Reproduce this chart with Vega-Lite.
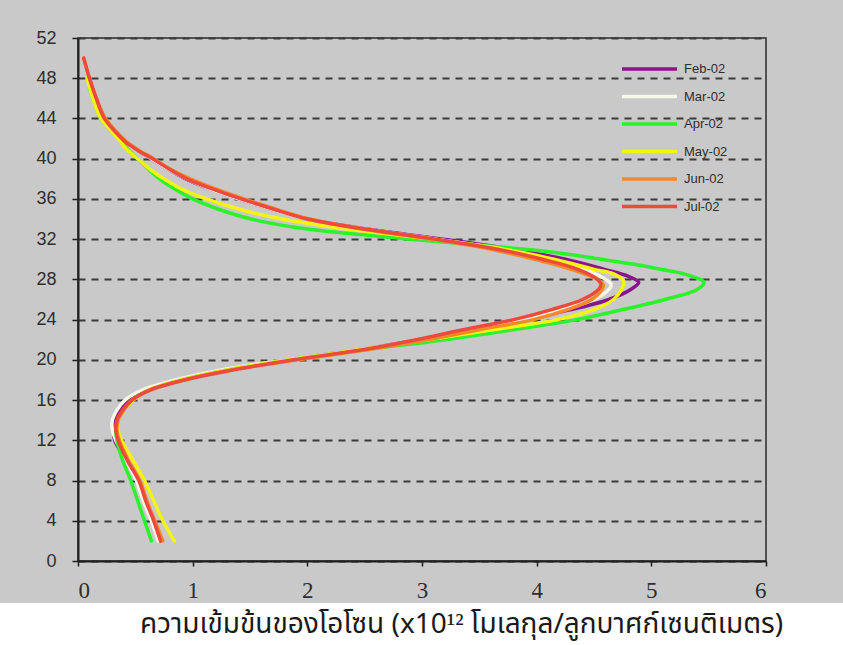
{
  "$schema": "https://vega.github.io/schema/vega-lite/v6.json",
  "autosize": {"type": "pad"},
  "padding": {"left": 0, "top": 28, "right": 0, "bottom": 0},
  "background": "#c9c9c9",
  "spacing": 0,
  "config": {
    "view": {"stroke": null},
    "axis": {
      "domainColor": "#1e1e1e",
      "domainWidth": 2,
      "tickColor": "#1e1e1e",
      "tickWidth": 1.5,
      "labelColor": "#2e2e2e",
      "labelFont": "Liberation Sans"
    }
  },
  "datasets": {
    "ozone": [
      {"month": "Feb-02", "alt": 2, "conc": 0.72}, {"month": "Feb-02", "alt": 4, "conc": 0.65}, {"month": "Feb-02", "alt": 6, "conc": 0.58}, {"month": "Feb-02", "alt": 8, "conc": 0.52}, {"month": "Feb-02", "alt": 10, "conc": 0.42}, {"month": "Feb-02", "alt": 12, "conc": 0.32}, {"month": "Feb-02", "alt": 13, "conc": 0.31}, {"month": "Feb-02", "alt": 14, "conc": 0.32}, {"month": "Feb-02", "alt": 15, "conc": 0.36}, {"month": "Feb-02", "alt": 16, "conc": 0.44}, {"month": "Feb-02", "alt": 17, "conc": 0.6}, {"month": "Feb-02", "alt": 18, "conc": 0.9}, {"month": "Feb-02", "alt": 19, "conc": 1.3}, {"month": "Feb-02", "alt": 20, "conc": 1.83}, {"month": "Feb-02", "alt": 21, "conc": 2.45}, {"month": "Feb-02", "alt": 22, "conc": 2.98}, {"month": "Feb-02", "alt": 23, "conc": 3.4}, {"month": "Feb-02", "alt": 24, "conc": 3.85}, {"month": "Feb-02", "alt": 25, "conc": 4.3}, {"month": "Feb-02", "alt": 26, "conc": 4.63}, {"month": "Feb-02", "alt": 27, "conc": 4.82}, {"month": "Feb-02", "alt": 27.7, "conc": 4.89}, {"month": "Feb-02", "alt": 28.3, "conc": 4.8}, {"month": "Feb-02", "alt": 29, "conc": 4.59}, {"month": "Feb-02", "alt": 30, "conc": 4.25}, {"month": "Feb-02", "alt": 31, "conc": 3.78}, {"month": "Feb-02", "alt": 32, "conc": 3.18}, {"month": "Feb-02", "alt": 33, "conc": 2.52}, {"month": "Feb-02", "alt": 34, "conc": 2.0}, {"month": "Feb-02", "alt": 35, "conc": 1.68}, {"month": "Feb-02", "alt": 36, "conc": 1.4}, {"month": "Feb-02", "alt": 37, "conc": 1.15}, {"month": "Feb-02", "alt": 38, "conc": 0.94}, {"month": "Feb-02", "alt": 39, "conc": 0.78}, {"month": "Feb-02", "alt": 40, "conc": 0.64}, {"month": "Feb-02", "alt": 41, "conc": 0.5}, {"month": "Feb-02", "alt": 42, "conc": 0.39}, {"month": "Feb-02", "alt": 44, "conc": 0.22}, {"month": "Feb-02", "alt": 46, "conc": 0.15}, {"month": "Feb-02", "alt": 48, "conc": 0.09},

      {"month": "Mar-02", "alt": 2, "conc": 0.7}, {"month": "Mar-02", "alt": 4, "conc": 0.64}, {"month": "Mar-02", "alt": 6, "conc": 0.57}, {"month": "Mar-02", "alt": 8, "conc": 0.51}, {"month": "Mar-02", "alt": 10, "conc": 0.42}, {"month": "Mar-02", "alt": 12, "conc": 0.33}, {"month": "Mar-02", "alt": 13, "conc": 0.3}, {"month": "Mar-02", "alt": 14, "conc": 0.3}, {"month": "Mar-02", "alt": 15, "conc": 0.34}, {"month": "Mar-02", "alt": 16, "conc": 0.41}, {"month": "Mar-02", "alt": 17, "conc": 0.56}, {"month": "Mar-02", "alt": 18, "conc": 0.85}, {"month": "Mar-02", "alt": 19, "conc": 1.25}, {"month": "Mar-02", "alt": 20, "conc": 1.82}, {"month": "Mar-02", "alt": 21, "conc": 2.45}, {"month": "Mar-02", "alt": 22, "conc": 3.0}, {"month": "Mar-02", "alt": 23, "conc": 3.45}, {"month": "Mar-02", "alt": 24, "conc": 3.9}, {"month": "Mar-02", "alt": 25, "conc": 4.22}, {"month": "Mar-02", "alt": 26, "conc": 4.5}, {"month": "Mar-02", "alt": 27, "conc": 4.63}, {"month": "Mar-02", "alt": 27.5, "conc": 4.65}, {"month": "Mar-02", "alt": 28, "conc": 4.6}, {"month": "Mar-02", "alt": 29, "conc": 4.42}, {"month": "Mar-02", "alt": 30, "conc": 4.12}, {"month": "Mar-02", "alt": 31, "conc": 3.7}, {"month": "Mar-02", "alt": 32, "conc": 3.12}, {"month": "Mar-02", "alt": 33, "conc": 2.5}, {"month": "Mar-02", "alt": 34, "conc": 2.0}, {"month": "Mar-02", "alt": 35, "conc": 1.68}, {"month": "Mar-02", "alt": 36, "conc": 1.4}, {"month": "Mar-02", "alt": 37, "conc": 1.15}, {"month": "Mar-02", "alt": 38, "conc": 0.95}, {"month": "Mar-02", "alt": 39, "conc": 0.78}, {"month": "Mar-02", "alt": 40, "conc": 0.64}, {"month": "Mar-02", "alt": 41, "conc": 0.5}, {"month": "Mar-02", "alt": 42, "conc": 0.39}, {"month": "Mar-02", "alt": 44, "conc": 0.22}, {"month": "Mar-02", "alt": 46, "conc": 0.15}, {"month": "Mar-02", "alt": 48, "conc": 0.09},

      {"month": "Apr-02", "alt": 2, "conc": 0.64}, {"month": "Apr-02", "alt": 4, "conc": 0.58}, {"month": "Apr-02", "alt": 6, "conc": 0.52}, {"month": "Apr-02", "alt": 8, "conc": 0.46}, {"month": "Apr-02", "alt": 10, "conc": 0.39}, {"month": "Apr-02", "alt": 12, "conc": 0.34}, {"month": "Apr-02", "alt": 13, "conc": 0.33}, {"month": "Apr-02", "alt": 14, "conc": 0.35}, {"month": "Apr-02", "alt": 15, "conc": 0.4}, {"month": "Apr-02", "alt": 16, "conc": 0.47}, {"month": "Apr-02", "alt": 17, "conc": 0.62}, {"month": "Apr-02", "alt": 18, "conc": 0.9}, {"month": "Apr-02", "alt": 19, "conc": 1.3}, {"month": "Apr-02", "alt": 20, "conc": 1.85}, {"month": "Apr-02", "alt": 21, "conc": 2.5}, {"month": "Apr-02", "alt": 22, "conc": 3.2}, {"month": "Apr-02", "alt": 23, "conc": 3.8}, {"month": "Apr-02", "alt": 24, "conc": 4.35}, {"month": "Apr-02", "alt": 25, "conc": 4.75}, {"month": "Apr-02", "alt": 26, "conc": 5.12}, {"month": "Apr-02", "alt": 27, "conc": 5.4}, {"month": "Apr-02", "alt": 27.7, "conc": 5.46}, {"month": "Apr-02", "alt": 28.5, "conc": 5.3}, {"month": "Apr-02", "alt": 29, "conc": 5.08}, {"month": "Apr-02", "alt": 29.5, "conc": 4.85}, {"month": "Apr-02", "alt": 30, "conc": 4.56}, {"month": "Apr-02", "alt": 30.6, "conc": 4.21}, {"month": "Apr-02", "alt": 31, "conc": 3.9}, {"month": "Apr-02", "alt": 32, "conc": 2.9}, {"month": "Apr-02", "alt": 33, "conc": 2.0}, {"month": "Apr-02", "alt": 34, "conc": 1.51}, {"month": "Apr-02", "alt": 35, "conc": 1.22}, {"month": "Apr-02", "alt": 36, "conc": 1.0}, {"month": "Apr-02", "alt": 37, "conc": 0.84}, {"month": "Apr-02", "alt": 38, "conc": 0.71}, {"month": "Apr-02", "alt": 39, "conc": 0.61}, {"month": "Apr-02", "alt": 40, "conc": 0.52}, {"month": "Apr-02", "alt": 41, "conc": 0.43}, {"month": "Apr-02", "alt": 42, "conc": 0.36}, {"month": "Apr-02", "alt": 44, "conc": 0.2}, {"month": "Apr-02", "alt": 46, "conc": 0.13}, {"month": "Apr-02", "alt": 47, "conc": 0.1},

      {"month": "May-02", "alt": 2, "conc": 0.84}, {"month": "May-02", "alt": 4, "conc": 0.74}, {"month": "May-02", "alt": 6, "conc": 0.66}, {"month": "May-02", "alt": 8, "conc": 0.58}, {"month": "May-02", "alt": 10, "conc": 0.48}, {"month": "May-02", "alt": 12, "conc": 0.38}, {"month": "May-02", "alt": 13, "conc": 0.35}, {"month": "May-02", "alt": 14, "conc": 0.35}, {"month": "May-02", "alt": 15, "conc": 0.4}, {"month": "May-02", "alt": 16, "conc": 0.48}, {"month": "May-02", "alt": 17, "conc": 0.62}, {"month": "May-02", "alt": 18, "conc": 0.9}, {"month": "May-02", "alt": 19, "conc": 1.3}, {"month": "May-02", "alt": 20, "conc": 1.85}, {"month": "May-02", "alt": 21, "conc": 2.45}, {"month": "May-02", "alt": 22, "conc": 3.05}, {"month": "May-02", "alt": 23, "conc": 3.62}, {"month": "May-02", "alt": 24, "conc": 4.18}, {"month": "May-02", "alt": 25, "conc": 4.5}, {"month": "May-02", "alt": 26, "conc": 4.67}, {"month": "May-02", "alt": 27, "conc": 4.74}, {"month": "May-02", "alt": 27.8, "conc": 4.76}, {"month": "May-02", "alt": 28.5, "conc": 4.68}, {"month": "May-02", "alt": 29, "conc": 4.5}, {"month": "May-02", "alt": 30, "conc": 4.15}, {"month": "May-02", "alt": 31, "conc": 3.72}, {"month": "May-02", "alt": 32, "conc": 3.1}, {"month": "May-02", "alt": 33, "conc": 2.35}, {"month": "May-02", "alt": 34, "conc": 1.78}, {"month": "May-02", "alt": 35, "conc": 1.4}, {"month": "May-02", "alt": 36, "conc": 1.12}, {"month": "May-02", "alt": 37, "conc": 0.9}, {"month": "May-02", "alt": 38, "conc": 0.75}, {"month": "May-02", "alt": 39, "conc": 0.62}, {"month": "May-02", "alt": 40, "conc": 0.52}, {"month": "May-02", "alt": 41, "conc": 0.42}, {"month": "May-02", "alt": 42, "conc": 0.35}, {"month": "May-02", "alt": 44, "conc": 0.2}, {"month": "May-02", "alt": 46, "conc": 0.13}, {"month": "May-02", "alt": 48, "conc": 0.08},

      {"month": "Jun-02", "alt": 2, "conc": 0.74}, {"month": "Jun-02", "alt": 4, "conc": 0.67}, {"month": "Jun-02", "alt": 6, "conc": 0.6}, {"month": "Jun-02", "alt": 8, "conc": 0.54}, {"month": "Jun-02", "alt": 10, "conc": 0.44}, {"month": "Jun-02", "alt": 12, "conc": 0.36}, {"month": "Jun-02", "alt": 13, "conc": 0.34}, {"month": "Jun-02", "alt": 14, "conc": 0.35}, {"month": "Jun-02", "alt": 15, "conc": 0.4}, {"month": "Jun-02", "alt": 16, "conc": 0.47}, {"month": "Jun-02", "alt": 17, "conc": 0.62}, {"month": "Jun-02", "alt": 18, "conc": 0.92}, {"month": "Jun-02", "alt": 19, "conc": 1.33}, {"month": "Jun-02", "alt": 20, "conc": 1.92}, {"month": "Jun-02", "alt": 21, "conc": 2.52}, {"month": "Jun-02", "alt": 22, "conc": 3.05}, {"month": "Jun-02", "alt": 23, "conc": 3.5}, {"month": "Jun-02", "alt": 24, "conc": 3.97}, {"month": "Jun-02", "alt": 25, "conc": 4.27}, {"month": "Jun-02", "alt": 26, "conc": 4.48}, {"month": "Jun-02", "alt": 27, "conc": 4.57}, {"month": "Jun-02", "alt": 27.5, "conc": 4.58}, {"month": "Jun-02", "alt": 28, "conc": 4.53}, {"month": "Jun-02", "alt": 29, "conc": 4.3}, {"month": "Jun-02", "alt": 30, "conc": 3.98}, {"month": "Jun-02", "alt": 31, "conc": 3.6}, {"month": "Jun-02", "alt": 32, "conc": 3.08}, {"month": "Jun-02", "alt": 33, "conc": 2.48}, {"month": "Jun-02", "alt": 34, "conc": 2.02}, {"month": "Jun-02", "alt": 35, "conc": 1.72}, {"month": "Jun-02", "alt": 36, "conc": 1.45}, {"month": "Jun-02", "alt": 37, "conc": 1.2}, {"month": "Jun-02", "alt": 38, "conc": 0.98}, {"month": "Jun-02", "alt": 39, "conc": 0.8}, {"month": "Jun-02", "alt": 40, "conc": 0.66}, {"month": "Jun-02", "alt": 40.7, "conc": 0.55}, {"month": "Jun-02", "alt": 41.3, "conc": 0.47}, {"month": "Jun-02", "alt": 41.7, "conc": 0.42}, {"month": "Jun-02", "alt": 42.5, "conc": 0.35}, {"month": "Jun-02", "alt": 44, "conc": 0.24}, {"month": "Jun-02", "alt": 46, "conc": 0.16}, {"month": "Jun-02", "alt": 48, "conc": 0.1}, {"month": "Jun-02", "alt": 50, "conc": 0.05},

      {"month": "Jul-02", "alt": 2, "conc": 0.72}, {"month": "Jul-02", "alt": 4, "conc": 0.66}, {"month": "Jul-02", "alt": 6, "conc": 0.59}, {"month": "Jul-02", "alt": 8, "conc": 0.53}, {"month": "Jul-02", "alt": 10, "conc": 0.43}, {"month": "Jul-02", "alt": 12, "conc": 0.35}, {"month": "Jul-02", "alt": 13, "conc": 0.33}, {"month": "Jul-02", "alt": 14, "conc": 0.34}, {"month": "Jul-02", "alt": 15, "conc": 0.39}, {"month": "Jul-02", "alt": 16, "conc": 0.47}, {"month": "Jul-02", "alt": 17, "conc": 0.63}, {"month": "Jul-02", "alt": 18, "conc": 0.93}, {"month": "Jul-02", "alt": 19, "conc": 1.36}, {"month": "Jul-02", "alt": 20, "conc": 1.88}, {"month": "Jul-02", "alt": 21, "conc": 2.48}, {"month": "Jul-02", "alt": 22, "conc": 2.95}, {"month": "Jul-02", "alt": 23, "conc": 3.36}, {"month": "Jul-02", "alt": 24, "conc": 3.8}, {"month": "Jul-02", "alt": 25, "conc": 4.13}, {"month": "Jul-02", "alt": 26, "conc": 4.4}, {"month": "Jul-02", "alt": 27, "conc": 4.54}, {"month": "Jul-02", "alt": 27.5, "conc": 4.56}, {"month": "Jul-02", "alt": 28, "conc": 4.53}, {"month": "Jul-02", "alt": 29, "conc": 4.36}, {"month": "Jul-02", "alt": 30, "conc": 4.05}, {"month": "Jul-02", "alt": 31, "conc": 3.66}, {"month": "Jul-02", "alt": 32, "conc": 3.12}, {"month": "Jul-02", "alt": 33, "conc": 2.5}, {"month": "Jul-02", "alt": 34, "conc": 2.0}, {"month": "Jul-02", "alt": 35, "conc": 1.7}, {"month": "Jul-02", "alt": 36, "conc": 1.42}, {"month": "Jul-02", "alt": 37, "conc": 1.17}, {"month": "Jul-02", "alt": 38, "conc": 0.95}, {"month": "Jul-02", "alt": 39, "conc": 0.79}, {"month": "Jul-02", "alt": 40, "conc": 0.65}, {"month": "Jul-02", "alt": 40.7, "conc": 0.54}, {"month": "Jul-02", "alt": 41.3, "conc": 0.46}, {"month": "Jul-02", "alt": 41.7, "conc": 0.41}, {"month": "Jul-02", "alt": 42.5, "conc": 0.34}, {"month": "Jul-02", "alt": 44, "conc": 0.23}, {"month": "Jul-02", "alt": 46, "conc": 0.16}, {"month": "Jul-02", "alt": 48, "conc": 0.1}, {"month": "Jul-02", "alt": 50, "conc": 0.05}
    ],
    "caption": [
      {"text": "ความเข้มข้นของโอโซน (x10¹² โมเลกุล/ลูกบาศก์เซนติเมตร)"}
    ]
  },
  "vconcat": [
    {
      "spacing": 34,
      "hconcat": [
        {
          "width": 1,
          "height": 523,
          "data": {"values": []},
          "mark": {"type": "rule"},
          "encoding": {}
        },
        {
          "width": 688,
          "height": 523,
          "view": {"stroke": "#2a2a2a", "strokeWidth": 1.5},
          "data": {"name": "ozone"},
          "mark": {"type": "line", "interpolate": "catmull-rom", "strokeCap": "round", "strokeJoin": "round"},
          "encoding": {
            "x": {
              "field": "conc",
              "type": "quantitative",
              "scale": {"domain": [0, 6], "nice": false, "zero": false},
              "axis": {
                "values": [0, 1, 2, 3, 4, 5, 6],
                "grid": false,
                "tickSize": 5,
                "labelFont": "Liberation Sans Narrow",
                "labelFontSize": 23,
                "labelPadding": 13,
                "title": null
              }
            },
            "y": {
              "field": "alt",
              "type": "quantitative",
              "scale": {"domain": [0, 52], "nice": false, "zero": false},
              "axis": {
                "values": [0, 4, 8, 12, 16, 20, 24, 28, 32, 36, 40, 44, 48, 52],
                "grid": true,
                "gridColor": "#3a3a3a",
                "gridWidth": 2,
                "gridDash": [7, 6],
                "tickSize": 6,
                "labelFontSize": 18,
                "labelPadding": 16,
                "title": null
              }
            },
            "order": {"field": "alt", "type": "quantitative"},
            "color": {
              "field": "month",
              "type": "nominal",
              "scale": {
                "domain": ["Feb-02", "Mar-02", "Apr-02", "May-02", "Jun-02", "Jul-02"],
                "range": ["#8a148a", "#f8f8e8", "#2cf22c", "#f4f414", "#f5892a", "#ec4a3c"]
              },
              "legend": {
                "title": null,
                "orient": "none",
                "legendX": 620,
                "legendY": 19,
                "padding": 0,
                "symbolType": "M-1,0H4.5",
                "symbolSize": 400,
                "symbolStrokeWidth": 4,
                "labelOffset": 40,
                "labelFont": "Liberation Sans",
                "labelFontSize": 13,
                "labelColor": "#2e2e2e",
                "rowPadding": 8.5
              }
            },
            "strokeWidth": {
              "field": "month",
              "type": "nominal",
              "scale": {
                "domain": ["Feb-02", "Mar-02", "Apr-02", "May-02", "Jun-02", "Jul-02"],
                "range": [3.5, 3.5, 3.5, 3.5, 3.5, 2.5]
              },
              "legend": null
            }
          }
        }
      ]
    },
    {
      "width": 843,
      "height": 44,
      "view": {"fill": "white", "stroke": null},
      "data": {"name": "caption"},
      "mark": {"type": "text", "font": "Noto Sans Thai", "fontSize": 28, "color": "#1a1a1a", "baseline": "middle", "dx": 40, "dy": 0},
      "encoding": {"text": {"field": "text", "type": "nominal"}}
    }
  ]
}
